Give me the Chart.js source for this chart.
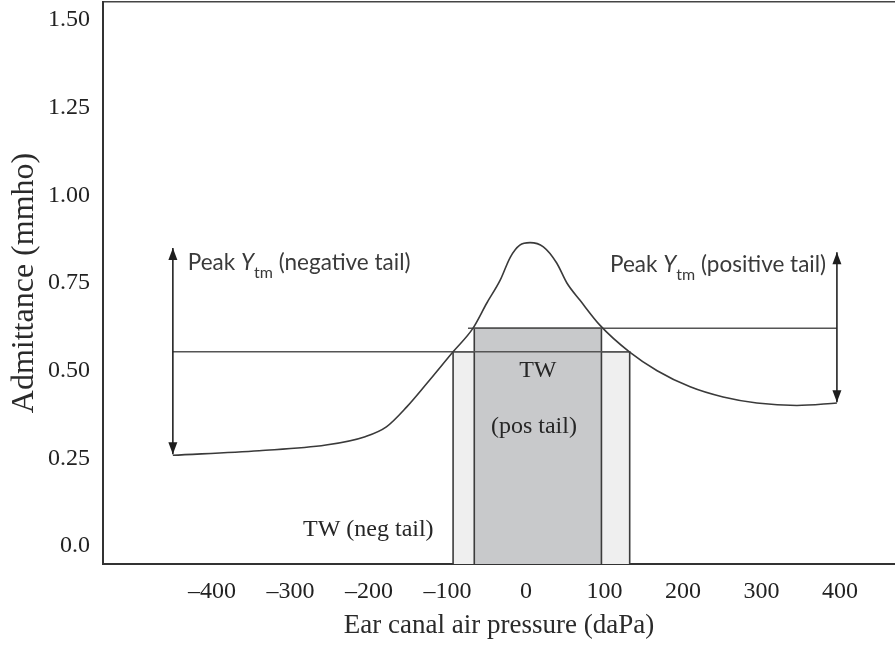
<!DOCTYPE html>
<html>
<head>
<meta charset="utf-8">
<script src="https://cdn.jsdelivr.net/npm/chart.js@4.4.1/dist/chart.umd.min.js"></script>
<style>
  html, body { margin: 0; padding: 0; background: #fff; overflow: hidden; }
  canvas { display: block; }
</style>
</head>
<body>
<canvas id="tymp" width="895" height="650"></canvas>
<script>
// tympanogram: admittance against ear canal air pressure
const pressure = [-450, -340, -255, -205, -178, -152, -126, -93, -68, -50, -33, -20, -8, 5,
                  22, 39, 52, 69, 94, 132, 167, 209, 251, 294, 345, 396];
const admittance = [0.259, 0.272, 0.288, 0.312, 0.340, 0.397, 0.465, 0.554, 0.620, 0.693, 0.758, 0.824, 0.858, 0.865,
                    0.853, 0.807, 0.750, 0.700, 0.630, 0.553, 0.500, 0.454, 0.425, 0.408, 0.401, 0.408];

const xTicks = [-400, -300, -200, -100, 0, 100, 200, 300, 400];
const xTickLabels = ['–400', '–300', '–200', '–100', '0', '100', '200', '300', '400'];
const yTicks = [0, 0.25, 0.5, 0.75, 1, 1.25, 1.5];
const yTickLabels = ['0.0', '0.25', '0.50', '0.75', '1.00', '1.25', '1.50'];

// tympanometric width bands (pressure range) and the admittance level they reach
const negTailTW = [-93, 132];
const negTailLevel = 0.554;
const posTailTW = [-66, 96];
const posTailLevel = 0.621;

// half-peak reference lines (pressure range)
const negTailLine = [-450, 132];
const posTailLine = [-74, 396];

// peak Ytm arrows: [pressure, tail admittance, peak admittance]
const negTailArrow = [-450, 0.262, 0.850];
const posTailArrow = [396, 0.410, 0.838];

const xMin = -539, xMax = 470;
const yMin = -0.051, yMax = 1.551;

const SERIF = '"Liberation Serif", "Times New Roman", serif';
const SANS = 'Lato, "Open Sans", sans-serif';

function band(range, level) {
    return [
        { x: range[0], y: yMin }, { x: range[0], y: level },
        { x: range[1], y: level }, { x: range[1], y: yMin }
    ];
}

function hline(range, level) {
    return [{ x: range[0], y: level }, { x: range[1], y: level }];
}

function arrow(a) {
    return [{ x: a[0], y: a[1] }, { x: a[0], y: a[2] }];
}

// text notes placed in data coordinates
const notes = [
    { parts: [['Peak ', 'n'], ['Y', 'i'], ['tm', 's'], [' (negative tail)', 'n']], x: -431, y: 0.787, align: 'left' },
    { parts: [['Peak ', 'n'], ['Y', 'i'], ['tm', 's'], [' (positive tail)', 'n']], x: 107, y: 0.781, align: 'left' },
    { parts: [['TW', 'serif']], x: 15, y: 0.482, align: 'center' },
    { parts: [['(pos tail)', 'serif']], x: 10, y: 0.322, align: 'center' },
    { parts: [['TW (neg tail)', 'serif']], x: -201, y: 0.03, align: 'center' }
];

const fonts = {
    n: { font: '22.5px ' + SANS, dy: 0, color: '#3a3a3a' },
    i: { font: 'italic 22.5px ' + SANS, dy: 0, color: '#3a3a3a' },
    s: { font: '16px ' + SANS, dy: 8, color: '#3a3a3a' },
    serif: { font: '24px ' + SERIF, dy: 0, color: '#262626' }
};

function head(ctx, px, py, dir) {
    ctx.beginPath();
    ctx.moveTo(px, py);
    ctx.lineTo(px - 4.5, py - dir * 12);
    ctx.lineTo(px + 4.5, py - dir * 12);
    ctx.closePath();
    ctx.fillStyle = '#1e1e1e';
    ctx.fill();
}

const overlay = {
    id: 'overlay',
    afterDatasetsDraw(chart) {
        const { ctx, scales } = chart;
        ctx.save();
        chart.data.datasets.forEach((ds, i) => {
            if (!ds.arrow) return;
            const pts = chart.getDatasetMeta(i).data;
            head(ctx, pts[0].x, pts[0].y, 1);
            head(ctx, pts[1].x, pts[1].y, -1);
        });
        ctx.textBaseline = 'alphabetic';
        ctx.textAlign = 'left';
        notes.forEach(note => {
            let total = 0;
            note.parts.forEach(p => { ctx.font = fonts[p[1]].font; total += ctx.measureText(p[0]).width; });
            let px = scales.x.getPixelForValue(note.x);
            const py = scales.y.getPixelForValue(note.y);
            if (note.align === 'center') px -= total / 2;
            note.parts.forEach(p => {
                const f = fonts[p[1]];
                ctx.font = f.font;
                ctx.fillStyle = f.color;
                ctx.fillText(p[0], px, py + f.dy);
                px += ctx.measureText(p[0]).width;
            });
        });
        ctx.restore();
    }
};

// fixed axis boxes, no automatic label padding
function noPad(s) {
    s.paddingTop = 0; s.paddingBottom = 0; s.paddingLeft = 0; s.paddingRight = 0;
}

new Chart(document.getElementById('tymp').getContext('2d'), {
    type: 'line',
    data: {
        datasets: [
            {
                data: pressure.map((p, i) => ({ x: p, y: admittance[i] })),
                borderColor: '#3a3a3a', borderWidth: 1.6, pointRadius: 0,
                cubicInterpolationMode: 'monotone', fill: false, order: 1
            },
            {
                data: hline(negTailLine, negTailLevel),
                borderColor: '#555', borderWidth: 1.6, pointRadius: 0, fill: false, order: 2
            },
            {
                data: hline(posTailLine, posTailLevel),
                borderColor: '#555', borderWidth: 1.6, pointRadius: 0, fill: false, order: 2
            },
            {
                data: arrow(negTailArrow), arrow: true,
                borderColor: '#222', borderWidth: 1.6, pointRadius: 0, fill: false, order: 1
            },
            {
                data: arrow(posTailArrow), arrow: true,
                borderColor: '#222', borderWidth: 1.6, pointRadius: 0, fill: false, order: 1
            },
            {
                data: band(posTailTW, posTailLevel),
                borderColor: '#3c3c3c', borderWidth: 1.6, backgroundColor: '#c8c9cb',
                pointRadius: 0, fill: 'start', order: 9
            },
            {
                data: band(negTailTW, negTailLevel),
                borderColor: '#3c3c3c', borderWidth: 1.6, backgroundColor: '#efefef',
                pointRadius: 0, fill: 'start', order: 10
            }
        ]
    },
    options: {
        responsive: false,
        animation: false,
        devicePixelRatio: 1,
        events: [],
        layout: { padding: 0, autoPadding: false },
        plugins: { legend: { display: false }, tooltip: { enabled: false } },
        scales: {
            x: {
                type: 'linear', position: 'bottom', min: xMin, max: xMax,
                afterBuildTicks: s => { s.ticks = xTicks.map(v => ({ value: v })); },
                afterFit: s => { s.height = 86; noPad(s); },
                grid: { display: false, drawTicks: false },
                border: { display: true, color: '#333', width: 2 },
                ticks: {
                    padding: 13, color: '#222', maxRotation: 0,
                    font: { family: SERIF, size: 24 },
                    callback: (v, i) => xTickLabels[i]
                },
                title: {
                    display: true, text: 'Ear canal air pressure (daPa)', color: '#2a2a2a',
                    font: { family: SERIF, size: 27 }, padding: { top: 0, bottom: 8 }
                }
            },
            xTop: {
                type: 'linear', position: 'top', min: xMin, max: xMax,
                afterFit: s => { s.height = 2; noPad(s); },
                grid: { display: false, drawTicks: false },
                border: { display: true, color: '#444', width: 1.5 },
                ticks: { display: false }
            },
            y: {
                type: 'linear', position: 'left', min: yMin, max: yMax,
                afterBuildTicks: s => { s.ticks = yTicks.map(v => ({ value: v })); },
                afterFit: s => { s.width = 103; noPad(s); },
                grid: { display: false, drawTicks: false },
                border: { display: true, color: '#333', width: 2 },
                ticks: {
                    padding: 13, color: '#222',
                    font: { family: SERIF, size: 24 },
                    callback: (v, i) => yTickLabels[i]
                },
                title: {
                    display: true, text: 'Admittance (mmho)', color: '#2a2a2a',
                    font: { family: SERIF, size: 32 }, padding: { top: 5, bottom: 0 }
                }
            }
        }
    },
    plugins: [overlay]
});
</script>
</body>
</html>
